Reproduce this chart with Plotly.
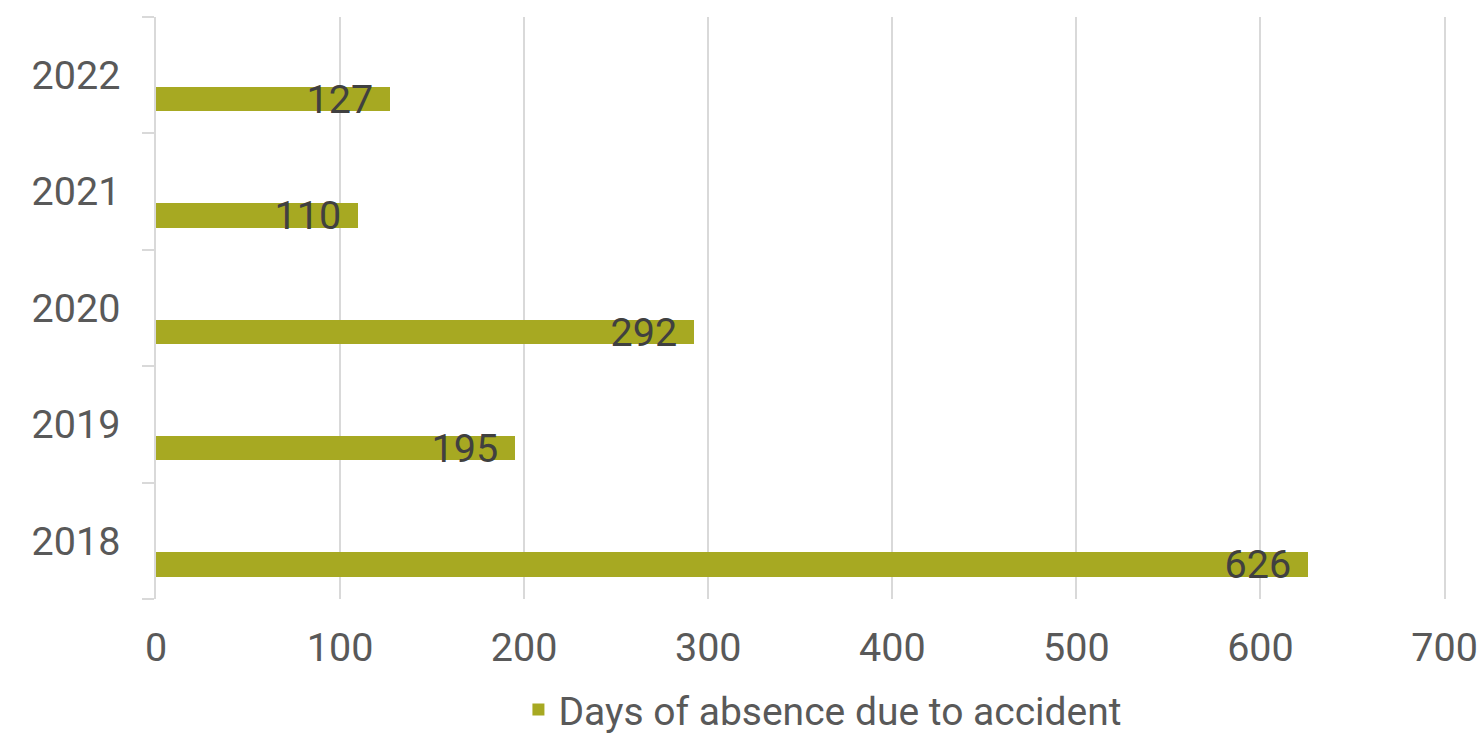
import plotly.graph_objects as go

years = ["2018", "2019", "2020", "2021", "2022"]
days = [626, 195, 292, 110, 127]
series_name = "Days of absence due to accident"
x_ticks = [0, 100, 200, 300, 400, 500, 600, 700]

BAR_COLOR = "#A7A922"
GRID = "#D9D9D9"
FONT = "Roboto"
FS = 39.5

fig = go.Figure()
fig.add_trace(go.Bar(
    y=years,
    x=days,
    orientation="h",
    name=series_name,
    marker=dict(color=BAR_COLOR, line=dict(width=0)),
    width=0.21,
    offset=-0.31,
    text=[f"{v}\u00a0\u200a" for v in days],
    textposition="inside",
    insidetextanchor="end",
    constraintext="none",
    textfont=dict(family=FONT, size=FS, color="#404040"),
    showlegend=True,
))

fig.update_layout(
    width=1481,
    height=734,
    margin=dict(l=156, r=35, t=17, b=135, autoexpand=False),
    paper_bgcolor="white",
    plot_bgcolor="white",
    font=dict(family=FONT, size=FS, color="#595959"),
    showlegend=True,
    legend=dict(
        orientation="h",
        x=0.517,
        xanchor="center",
        y=-0.19,
        yanchor="middle",
        font=dict(family=FONT, size=39, color="#595959"),
        itemwidth=30,
    ),
    bargap=0,
)

fig.update_xaxes(
    range=[0, 700.8],
    tickvals=x_ticks,
    ticktext=[str(t) for t in x_ticks],
    showgrid=True,
    gridcolor=GRID,
    gridwidth=1.5,
    zeroline=False,
    showline=False,
    ticks="",
    automargin=False,
    ticklabelstandoff=21,
    tickfont=dict(family=FONT, size=FS, color="#595959"),
)

fig.update_yaxes(
    type="category",
    categoryorder="array",
    categoryarray=years,
    range=[-0.5, 4.5],
    tickson="boundaries",
    ticks="outside",
    ticklen=12,
    tickwidth=1.5,
    tickcolor=GRID,
    showline=True,
    linecolor=GRID,
    linewidth=1.5,
    showgrid=False,
    automargin=False,
    ticklabelstandoff=26,
    tickfont=dict(family=FONT, size=FS, color="#595959"),
)

fig.write_html(
    "out.html",
    config={"displayModeBar": False},
    post_script="document.body.style.margin='0';",
)
